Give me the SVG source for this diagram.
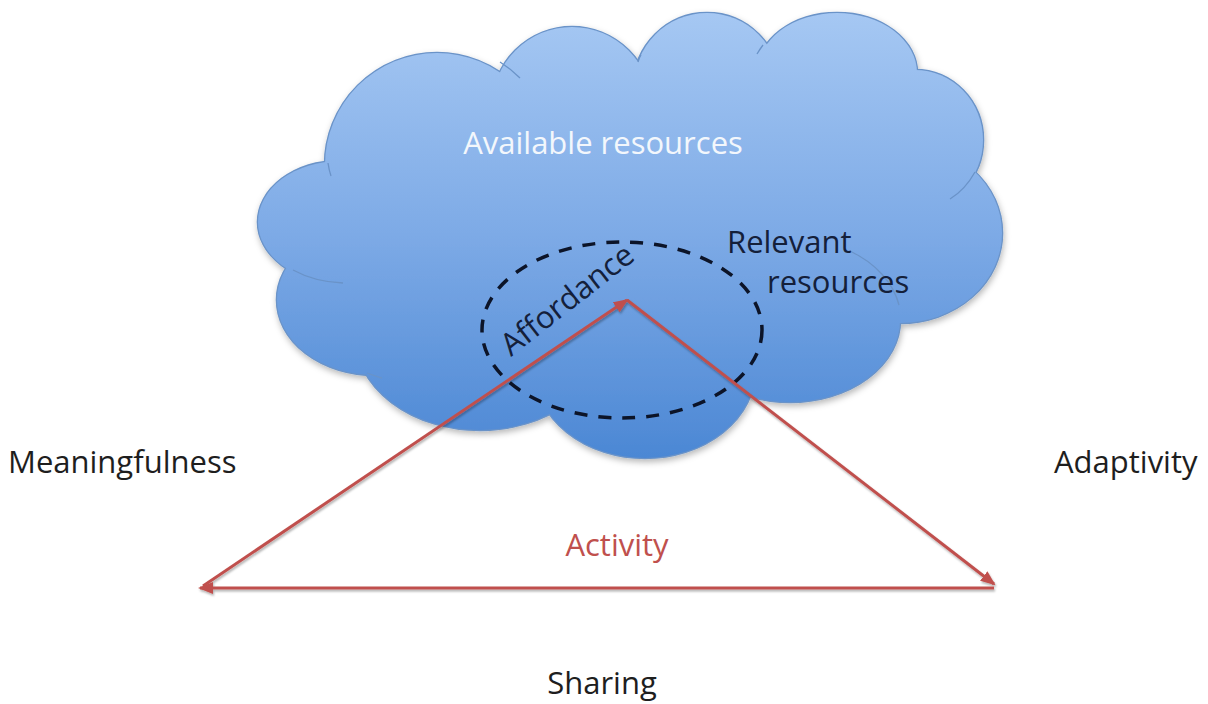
<svg xmlns="http://www.w3.org/2000/svg" xmlns:xlink="http://www.w3.org/1999/xlink" width="1208" height="704" viewBox="0 0 1208 704">
<style>
  .lbl { font-family: "Open Sans", "Liberation Sans", sans-serif; font-size: 31px; }
  .dark { fill: #1e1e1e; }
  .navy { fill: #14203a; }
  .white { fill: #F3F7FC; }
  .red { fill: #C0504D; }
  .tail { fill: none; stroke: #6A93C8; stroke-width: 1.3; }
</style>
<defs>
  <linearGradient id="cloudGrad" gradientUnits="userSpaceOnUse" x1="0" y1="10" x2="0" y2="460">
    <stop offset="0" stop-color="#A6C8F3"/>
    <stop offset="0.5" stop-color="#7DAAE6"/>
    <stop offset="1" stop-color="#4B87D4"/>
  </linearGradient>
  <filter id="shadow" x="-10%" y="-10%" width="120%" height="130%">
    <feDropShadow dx="1" dy="3" stdDeviation="3" flood-color="#000" flood-opacity="0.28"/>
  </filter>
  <filter id="lineShadow" x="-5%" y="-5%" width="110%" height="115%">
    <feDropShadow dx="1" dy="2" stdDeviation="1.2" flood-color="#000" flood-opacity="0.3"/>
  </filter>
  <marker id="arrow" markerUnits="userSpaceOnUse" markerWidth="15" markerHeight="12" refX="13" refY="6" orient="auto">
    <path d="M0,0 L15,6 L0,12 z" fill="#C0504D"/>
  </marker>
  <g id="bumps">
    <ellipse cx="340" cy="222" rx="82" ry="61"/>
    <circle cx="437" cy="165" r="112"/>
    <circle cx="572" cy="107" r="80"/>
    <circle cx="707" cy="86" r="73"/>
    <ellipse cx="837" cy="73" rx="80" ry="60"/>
    <ellipse cx="915" cy="140" rx="68" ry="70"/>
    <ellipse cx="900" cy="233" rx="102" ry="90"/>
    <ellipse cx="790" cy="320" rx="110" ry="82"/>
    <ellipse cx="645" cy="370" rx="110" ry="88"/>
    <ellipse cx="480" cy="335" rx="125" ry="95"/>
    <ellipse cx="375" cy="300" rx="98" ry="75"/>
  </g>
</defs>

<g id="cloud" filter="url(#shadow)">
  <use xlink:href="#bumps" fill="none" stroke="#6A93C8" stroke-width="2.6"/>
  <use xlink:href="#bumps" fill="url(#cloudGrad)" stroke="none"/>
  <polygon points="300,268 335,170 503,72 641,62 763,52 912,80 965,172 890,318 745,388 535,412 370,368" fill="url(#cloudGrad)"/>
  <path class="tail" d="M293,270 Q315,282 343,283"/>
  <path class="tail" d="M328,163 Q329,170 331,176"/>
  <path class="tail" d="M500,62 Q511,69 520,78"/>
  <path class="tail" d="M641,55 Q639,58 638,62"/>
  <path class="tail" d="M763,45 Q760,49 757,54"/>
  <path class="tail" d="M975,172 Q965,190 950,199"/>
  <path class="tail" d="M850,251 A110,82 0 0 1 899,305"/>
  <path class="tail" d="M367,373 Q375,376 382,378"/>
</g>

<g id="available-resources">
  <text class="lbl white" x="603" y="154" text-anchor="middle">Available resources</text>
</g>

<g id="relevant-resources">
  <ellipse cx="622" cy="330" rx="140" ry="88" fill="none" stroke="#0c1428" stroke-width="3.5" stroke-dasharray="13 11"/>
  <text class="lbl navy" x="727" y="253">Relevant</text>
  <text class="lbl navy" x="767" y="293">resources</text>
</g>

<g id="affordance">
  <text class="lbl navy" x="0" y="0" transform="translate(511,357) rotate(-38)">Affordance</text>
</g>

<g id="connectors" fill="none" stroke="#C0504D" stroke-width="3" filter="url(#lineShadow)">
  <line x1="203" y1="586" x2="627" y2="300" marker-end="url(#arrow)"/>
  <line x1="627" y1="300" x2="994" y2="584" marker-end="url(#arrow)"/>
  <line x1="994" y1="588" x2="200" y2="588" marker-end="url(#arrow)"/>
</g>

<g id="meaningfulness">
  <text class="lbl dark" x="8" y="473">Meaningfulness</text>
</g>
<g id="adaptivity">
  <text class="lbl dark" x="1054" y="473">Adaptivity</text>
</g>
<g id="activity">
  <text class="lbl red" x="617" y="556" text-anchor="middle">Activity</text>
</g>
<g id="sharing">
  <text class="lbl dark" x="602" y="694" text-anchor="middle">Sharing</text>
</g>
</svg>
